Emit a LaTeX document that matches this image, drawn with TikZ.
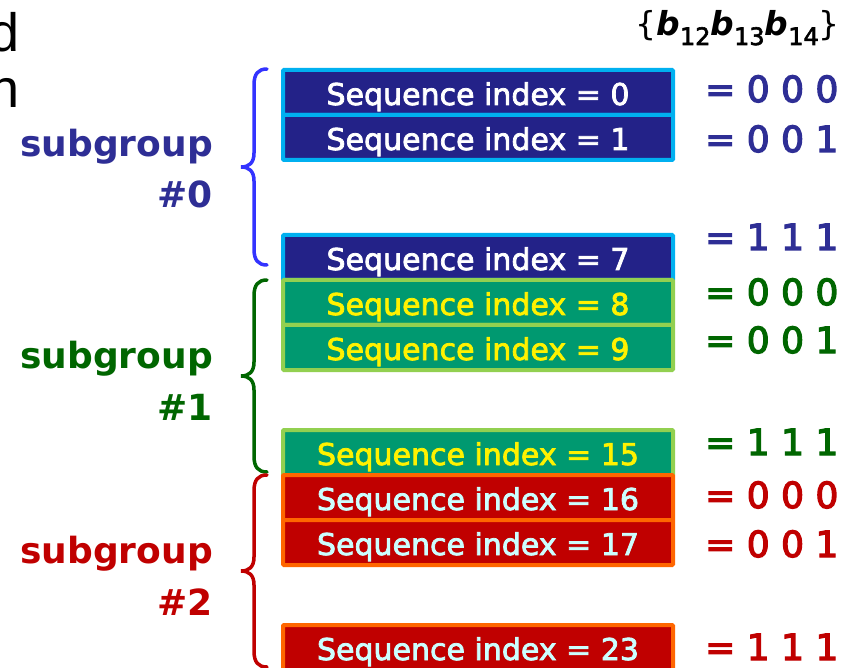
\documentclass[tikz,border=0pt]{standalone}
\usepackage{fontspec}
\setmainfont{DejaVu Sans}
\newfontfamily\semib[FakeBold=2.5]{DejaVu Sans}
\newfontfamily\semibb[FakeBold=3.5]{DejaVu Sans}
\newfontfamily\thinfont{Liberation Sans}
\definecolor{bfill}{HTML}{232288}
\definecolor{bline}{HTML}{00B0F0}
\definecolor{btext}{HTML}{2E2E95}
\definecolor{bbrace}{HTML}{3333FF}
\definecolor{gfill}{HTML}{009970}
\definecolor{gline}{HTML}{92D050}
\definecolor{gtext}{HTML}{006600}
\definecolor{rfill}{HTML}{C00000}
\definecolor{rline}{HTML}{FF6600}
\definecolor{rtext}{HTML}{C00000}
\definecolor{rlbl}{HTML}{CCFFFF}
\newcommand\grpbrace[4]{%
  \draw[#1, line width=3.5pt, line cap=round]
    (267,#2) .. controls (258,#2) and (254,#2+5) .. (254,#2+16)
    -- (254,#3-14) .. controls (254,#3-4) and (249,#3) .. (241,#3)
    .. controls (249,#3) and (254,#3+4) .. (254,#3+14)
    -- (254,#4-16) .. controls (254,#4-5) and (258,#4) .. (267,#4);}
\newcommand\hsub[1]{\raisebox{-9pt}{\semib\fontsize{24}{24}\selectfont #1}}
\newcommand\hb{{\bfseries\itshape b}}
\tikzset{
  seqbox/.style={rectangle, draw, line width=4pt, minimum width=390pt,
    minimum height=45pt, inner sep=0pt, text height=25pt, text depth=0pt,
    font=\semib\fontsize{30}{30}\selectfont, rounded corners=1pt},
  bluebox/.style={seqbox, fill=bfill, draw=bline, text=white},
  greenbox/.style={seqbox, fill=gfill, draw=gline, text=yellow},
  redbox/.style={seqbox, fill=rfill, draw=rline, text=rlbl},
  sglbl/.style={anchor=base east, inner sep=0pt, font=\bfseries\fontsize{36}{36}\selectfont},
  bits/.style={anchor=base west, inner sep=0pt, font=\semibb\fontsize{36}{36}\selectfont},
}
\begin{document}
\begin{tikzpicture}[x=1pt, y=-1pt]
\clip (0,0) rectangle (854,668);
\fill[white] (0,0) rectangle (854,668);
% partial left text
\node[anchor=base east, inner sep=0pt, font=\thinfont\fontsize{54}{54}\selectfont] (lt1) at (20,52) {d};
\node[anchor=base east, inner sep=0pt, font=\thinfont\fontsize{54}{54}\selectfont] (lt2) at (20,108) {n};
% header
\node[anchor=base east, inner sep=0pt, font=\fontsize{33}{33}\selectfont] (hdr) at (840,36)
  {\{\hb\hsub{12}\hb\hsub{13}\hb\hsub{14}\}};
% braces
\grpbrace{bbrace}{69}{167}{265}
\grpbrace{gtext}{280}{376}{472}
\grpbrace{rtext}{475}{571}{667}
% subgroup labels
\node[sglbl, text=btext] (sg0) at (213,157) {subgroup};
\node[sglbl, text=btext] (n0) at (213,208) {\#0};
\node[sglbl, text=gtext] (sg1) at (213,368) {subgroup};
\node[sglbl, text=gtext] (n1) at (213,420) {\#1};
\node[sglbl, text=rtext] (sg2) at (213,563) {subgroup};
\node[sglbl, text=rtext] (n2) at (213,615) {\#2};
% boxes
\node[bluebox] (s0) at (478,92.5) {Sequence index = 0};
\node[bluebox] (s1) at (478,137.5) {Sequence index = 1};
\node[bluebox] (s7) at (478,257.5) {Sequence index = 7};
\node[greenbox] (s8) at (478,302.5) {Sequence index = 8};
\node[greenbox] (s9) at (478,347.5) {Sequence index = 9};
\node[greenbox] (s15) at (478,452.5) {Sequence index = 15};
\node[redbox] (s16) at (478,497.5) {Sequence index = 16};
\node[redbox] (s17) at (478,542.5) {Sequence index = 17};
\node[redbox] (s23) at (478,647.5) {Sequence index = 23};
% bit values
\node[bits, text=btext] (v0) at (705,102) {= 0 0 0};
\node[bits, text=btext] (v1) at (705,152) {= 0 0 1};
\node[bits, text=btext] (v7) at (705,250) {= 1 1 1};
\node[bits, text=gtext] (v8) at (705,305) {= 0 0 0};
\node[bits, text=gtext] (v9) at (705,353) {= 0 0 1};
\node[bits, text=gtext] (v15) at (705,455) {= 1 1 1};
\node[bits, text=rtext] (v16) at (705,508) {= 0 0 0};
\node[bits, text=rtext] (v17) at (705,557) {= 0 0 1};
\node[bits, text=rtext] (v23) at (705,660) {= 1 1 1};
\end{tikzpicture}
\end{document}
